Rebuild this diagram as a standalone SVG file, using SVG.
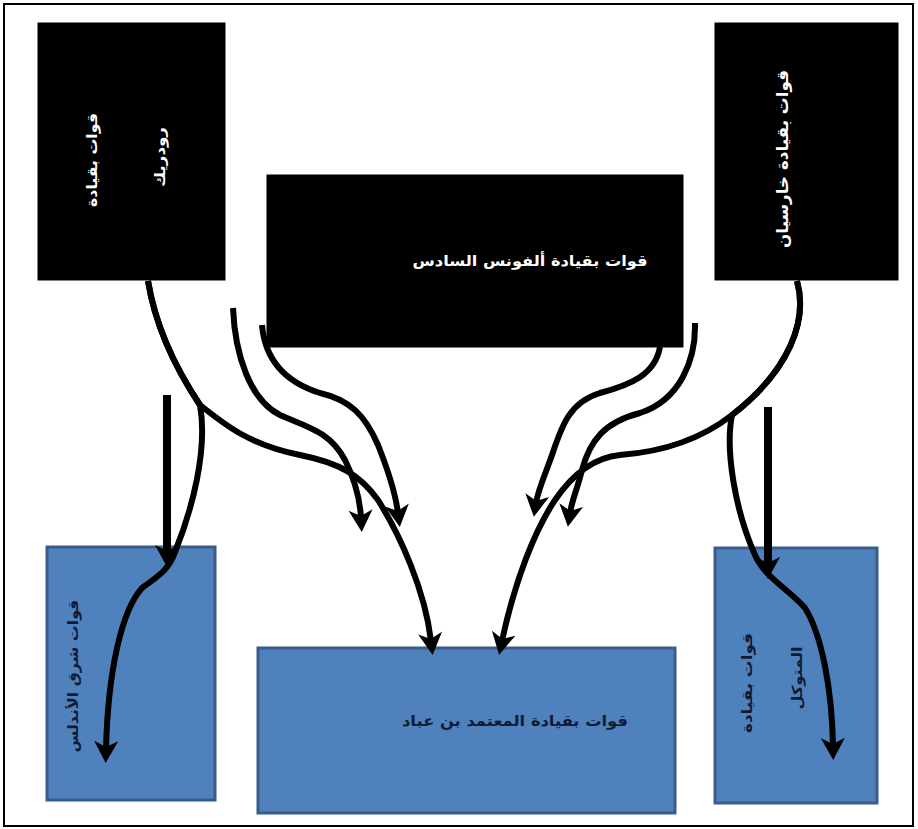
<svg xmlns="http://www.w3.org/2000/svg" width="918" height="829" viewBox="0 0 918 829">
<style>
.blk{fill:#000;stroke:#000;stroke-width:1}
.blu{fill:#4F81BD;stroke:#385D8A;stroke-width:3}
.wt{fill:#fff;font-family:"DejaVu Sans",sans-serif;font-weight:bold;text-anchor:middle}
.dt{fill:#0f1a33;font-family:"DejaVu Sans",sans-serif;font-weight:bold;text-anchor:middle}
.c{fill:none;stroke:#000;stroke-width:6;stroke-linejoin:round;marker-end:url(#ah)}
.s{fill:none;stroke:#000;stroke-width:8;marker-end:url(#ah)}
</style>
<defs>
<marker id="ah" markerUnits="userSpaceOnUse" viewBox="-2 -14 28 28" markerWidth="28" markerHeight="28" refX="8" refY="0" orient="auto">
<path d="M0,-12 L22,0 L0,12 L6,0 Z" fill="#000"/>
</marker>
</defs>
<rect x="0" y="0" width="918" height="829" fill="#fff"/>
<rect x="4" y="4" width="909" height="822" fill="none" stroke="#000" stroke-width="2"/>

<g id="node-roderic">
<rect class="blk" x="38" y="23" width="187" height="257"/>
<text class="wt" font-size="14" transform="translate(97,160) rotate(-90)" textLength="94" lengthAdjust="spacingAndGlyphs">قوات بقيادة</text>
<text class="wt" font-size="14" transform="translate(165,157) rotate(-90)" textLength="60" lengthAdjust="spacingAndGlyphs">رودريك</text>
</g>
<g id="node-alfonso">
<rect class="blk" x="267" y="175" width="416" height="172"/>
<text class="wt" font-size="15" x="530" y="266" textLength="235" lengthAdjust="spacingAndGlyphs">قوات بقيادة ألفونس السادس</text>
</g>
<g id="node-garcia">
<rect class="blk" x="715" y="23" width="183" height="257"/>
<text class="wt" font-size="16" transform="translate(788,159) rotate(-90)" textLength="178" lengthAdjust="spacingAndGlyphs">قوات بقيادة خارسيان</text>
</g>
<g id="node-east">
<rect class="blu" x="47" y="547" width="168" height="253"/>
<text class="dt" font-size="14" transform="translate(78,676) rotate(-90)" textLength="153" lengthAdjust="spacingAndGlyphs">قوات شرق الأندلس</text>
</g>
<g id="node-mutamid">
<rect class="blu" x="258" y="648" width="417" height="165"/>
<text class="dt" font-size="15" x="515" y="726" textLength="226" lengthAdjust="spacingAndGlyphs">قوات بقيادة المعتمد بن عباد</text>
</g>
<g id="node-mutawakkil">
<rect class="blu" x="715" y="548" width="162" height="255"/>
<text class="dt" font-size="14" transform="translate(752,683) rotate(-90)" textLength="100" lengthAdjust="spacingAndGlyphs">قوات بقيادة</text>
<text class="dt" font-size="14" transform="translate(802,678) rotate(-90)" textLength="63" lengthAdjust="spacingAndGlyphs">المتوكل</text>
</g>

<g id="connectors">
<path class="s" d="M167,395 L167,553"/>
<path class="c" d="M148,281 C156,330 178,372 200,405 C208,450 192,510 175,552 C168,572 155,578 142,588 C122,610 108,670 106,749"/>
<path class="c" d="M148,281 C156,330 178,372 200,405 C225,425 250,445 300,455 C340,463 360,475 378,500 C400,535 425,590 431,641"/>
<path class="c" d="M233,308 C235,355 250,400 280,415 C310,428 330,432 345,460 C355,480 360,500 361,518"/>
<path class="c" d="M262,325 C265,360 285,382 320,393 C350,400 365,415 378,445 C388,470 395,490 398,513"/>
<path class="s" d="M768,407 L768,565"/>
<path class="c" d="M797,281 C808,320 790,370 732,415 C725,450 735,510 755,555 C765,578 790,590 805,608 C822,635 832,690 833,746"/>
<path class="c" d="M797,281 C808,320 790,370 732,415 C700,440 660,452 620,455 C590,458 570,478 555,500 C535,530 515,580 502,641"/>
<path class="c" d="M660,347 C655,375 630,385 600,393 C570,402 562,425 552,455 C545,475 538,490 536,503"/>
<path class="c" d="M695,323 C696,360 680,400 640,413 C605,422 590,440 582,470 C577,490 572,500 570,513"/>
</g>
</svg>
